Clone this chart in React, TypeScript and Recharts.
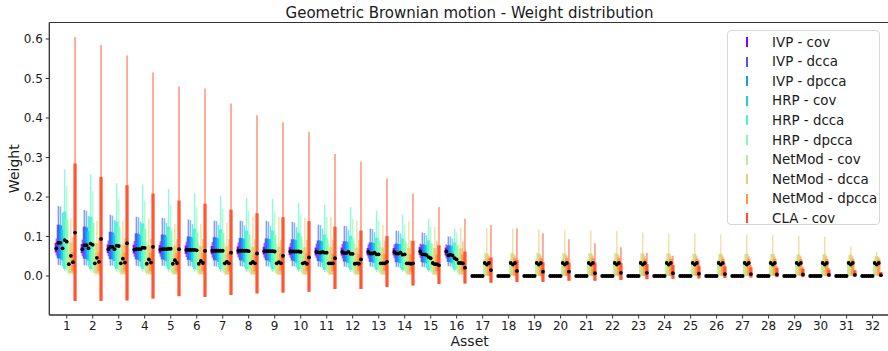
import React from 'react';
import { ComposedChart, Scatter, ErrorBar, XAxis, YAxis, ReferenceArea, Legend, Label } from 'recharts';

// Each row: [whiskerLow, boxLow, median, boxHigh, whiskerHigh] for assets 1..32
type Row = [number, number, number, number, number];

const ASSETS = [1, 2, 3, 4, 5, 6, 7, 8, 9, 10, 11, 12, 13, 14, 15, 16, 17, 18, 19, 20, 21, 22, 23, 24, 25, 26, 27, 28, 29, 30, 31, 32];
const Y_TICKS = [0, 0.1, 0.2, 0.3, 0.4, 0.5, 0.6];

const SERIES_NAMES = ['IVP - cov', 'IVP - dcca', 'IVP - dpcca', 'HRP - cov', 'HRP - dcca', 'HRP - dpcca', 'NetMod - cov', 'NetMod - dcca', 'NetMod - dpcca', 'CLA - cov'];
const SERIES_RGB = ['128,0,255', '77,79,252', '26,150,243', '26,206,227', '77,243,206', '128,255,180', '179,243,150', '230,206,116', '255,150,79', '255,79,40'];

const IVP_COV: Row[] = [
  [0.052, 0.060, 0.070, 0.084, 0.095], [0.050, 0.058, 0.068, 0.081, 0.092], [0.050, 0.058, 0.068, 0.080, 0.090], [0.049, 0.057, 0.067, 0.079, 0.089],
  [0.049, 0.057, 0.067, 0.078, 0.088], [0.048, 0.056, 0.066, 0.077, 0.087], [0.047, 0.055, 0.064, 0.076, 0.086], [0.047, 0.055, 0.064, 0.075, 0.085],
  [0.046, 0.054, 0.063, 0.074, 0.084], [0.046, 0.053, 0.062, 0.073, 0.083], [0.045, 0.052, 0.061, 0.072, 0.082], [0.045, 0.052, 0.061, 0.072, 0.081],
  [0.045, 0.052, 0.061, 0.071, 0.080], [0.045, 0.052, 0.061, 0.071, 0.080], [0.046, 0.053, 0.062, 0.073, 0.082], [0.045, 0.052, 0.062, 0.072, 0.080],
  [0, 0, 0, 0, 0], [0, 0, 0, 0, 0], [0, 0, 0, 0, 0], [0, 0, 0, 0, 0], [0, 0, 0, 0, 0], [0, 0, 0, 0, 0], [0, 0, 0, 0, 0], [0, 0, 0, 0, 0],
  [0, 0, 0, 0, 0], [0, 0, 0, 0, 0], [0, 0, 0, 0, 0], [0, 0, 0, 0, 0], [0, 0, 0, 0, 0], [0, 0, 0, 0, 0], [0, 0, 0, 0, 0], [0, 0, 0, 0, 0],
];

const IVP_DCCA: Row[] = [
  [0.028, 0.045, 0.084, 0.130, 0.177], [0.027, 0.044, 0.078, 0.125, 0.167], [0.026, 0.043, 0.074, 0.112, 0.155], [0.026, 0.042, 0.068, 0.108, 0.150],
  [0.026, 0.042, 0.068, 0.105, 0.147], [0.025, 0.041, 0.066, 0.100, 0.143], [0.025, 0.040, 0.064, 0.098, 0.140], [0.025, 0.040, 0.064, 0.096, 0.140],
  [0.025, 0.040, 0.063, 0.095, 0.140], [0.025, 0.039, 0.062, 0.093, 0.137], [0.024, 0.038, 0.060, 0.090, 0.130], [0.024, 0.037, 0.058, 0.088, 0.127],
  [0.024, 0.036, 0.057, 0.085, 0.120], [0.023, 0.035, 0.057, 0.082, 0.115], [0.023, 0.035, 0.055, 0.080, 0.110], [0.025, 0.036, 0.052, 0.078, 0.100],
  [0, 0, 0, 0, 0], [0, 0, 0, 0, 0], [0, 0, 0, 0, 0], [0, 0, 0, 0, 0], [0, 0, 0, 0, 0], [0, 0, 0, 0, 0], [0, 0, 0, 0, 0], [0, 0, 0, 0, 0],
  [0, 0, 0, 0, 0], [0, 0, 0, 0, 0], [0, 0, 0, 0, 0], [0, 0, 0, 0, 0], [0, 0, 0, 0, 0], [0, 0, 0, 0, 0], [0, 0, 0, 0, 0], [0, 0, 0, 0, 0],
];

const IVP_DPCCA: Row[] = [
  [0.027, 0.044, 0.084, 0.128, 0.176], [0.027, 0.043, 0.078, 0.123, 0.165], [0.026, 0.042, 0.074, 0.110, 0.153], [0.025, 0.041, 0.068, 0.106, 0.149],
  [0.025, 0.041, 0.068, 0.104, 0.146], [0.025, 0.040, 0.066, 0.099, 0.142], [0.024, 0.040, 0.064, 0.097, 0.139], [0.024, 0.039, 0.064, 0.095, 0.139],
  [0.024, 0.039, 0.063, 0.094, 0.138], [0.024, 0.038, 0.062, 0.092, 0.135], [0.023, 0.037, 0.059, 0.089, 0.129], [0.023, 0.036, 0.058, 0.087, 0.126],
  [0.023, 0.035, 0.057, 0.084, 0.119], [0.022, 0.035, 0.057, 0.081, 0.114], [0.022, 0.034, 0.055, 0.079, 0.109], [0.024, 0.035, 0.054, 0.077, 0.100],
  [0, 0, 0, 0, 0], [0, 0, 0, 0, 0], [0, 0, 0, 0, 0], [0, 0, 0, 0, 0], [0, 0, 0, 0, 0], [0, 0, 0, 0, 0], [0, 0, 0, 0, 0], [0, 0, 0, 0, 0],
  [0, 0, 0, 0, 0], [0, 0, 0, 0, 0], [0, 0, 0, 0, 0], [0, 0, 0, 0, 0], [0, 0, 0, 0, 0], [0, 0, 0, 0, 0], [0, 0, 0, 0, 0], [0, 0, 0, 0, 0],
];

const HRP_COV: Row[] = [
  [0.025, 0.040, 0.070, 0.118, 0.160], [0.024, 0.039, 0.070, 0.113, 0.152], [0.024, 0.038, 0.068, 0.105, 0.142], [0.023, 0.037, 0.068, 0.102, 0.138],
  [0.023, 0.037, 0.068, 0.100, 0.135], [0.023, 0.036, 0.066, 0.097, 0.132], [0.022, 0.036, 0.064, 0.095, 0.130], [0.022, 0.035, 0.064, 0.094, 0.128],
  [0.022, 0.035, 0.063, 0.093, 0.127], [0.022, 0.034, 0.062, 0.091, 0.124], [0.021, 0.034, 0.061, 0.088, 0.120], [0.021, 0.033, 0.061, 0.086, 0.117],
  [0.021, 0.033, 0.059, 0.083, 0.112], [0.020, 0.032, 0.059, 0.081, 0.108], [0.020, 0.032, 0.053, 0.078, 0.103], [0.021, 0.032, 0.052, 0.075, 0.095],
  [0, 0, 0, 0, 0], [0, 0, 0, 0, 0], [0, 0, 0, 0, 0], [0, 0, 0, 0, 0], [0, 0, 0, 0, 0], [0, 0, 0, 0, 0], [0, 0, 0, 0, 0], [0, 0, 0, 0, 0],
  [0, 0, 0, 0, 0], [0, 0, 0, 0, 0], [0, 0, 0, 0, 0], [0, 0, 0, 0, 0], [0, 0, 0, 0, 0], [0, 0, 0, 0, 0], [0, 0, 0, 0, 0], [0, 0, 0, 0, 0],
];

const HRP_DCCA: Row[] = [
  [0.012, 0.018, 0.091, 0.163, 0.270], [0.012, 0.018, 0.082, 0.150, 0.258], [0.011, 0.018, 0.077, 0.138, 0.235], [0.011, 0.018, 0.072, 0.133, 0.232],
  [0.011, 0.017, 0.069, 0.125, 0.220], [0.011, 0.017, 0.066, 0.120, 0.210], [0.010, 0.017, 0.064, 0.118, 0.203], [0.010, 0.017, 0.064, 0.115, 0.198],
  [0.010, 0.016, 0.063, 0.115, 0.195], [0.010, 0.016, 0.062, 0.110, 0.185], [0.010, 0.016, 0.059, 0.105, 0.180], [0.010, 0.016, 0.056, 0.102, 0.175],
  [0.010, 0.016, 0.055, 0.097, 0.165], [0.010, 0.015, 0.054, 0.095, 0.155], [0.010, 0.015, 0.048, 0.090, 0.145], [0.011, 0.016, 0.045, 0.085, 0.120],
  [0, 0, 0, 0, 0], [0, 0, 0, 0, 0], [0, 0, 0, 0, 0], [0, 0, 0, 0, 0], [0, 0, 0, 0, 0], [0, 0, 0, 0, 0], [0, 0, 0, 0, 0], [0, 0, 0, 0, 0],
  [0, 0, 0, 0, 0], [0, 0, 0, 0, 0], [0, 0, 0, 0, 0], [0, 0, 0, 0, 0], [0, 0, 0, 0, 0], [0, 0, 0, 0, 0], [0, 0, 0, 0, 0], [0, 0, 0, 0, 0],
];

const HRP_DPCCA: Row[] = [
  [0.015, 0.025, 0.087, 0.143, 0.228], [0.015, 0.024, 0.079, 0.135, 0.215], [0.014, 0.024, 0.076, 0.125, 0.195], [0.014, 0.023, 0.071, 0.120, 0.190],
  [0.014, 0.023, 0.069, 0.115, 0.180], [0.014, 0.023, 0.065, 0.110, 0.175], [0.013, 0.022, 0.064, 0.108, 0.170], [0.013, 0.022, 0.063, 0.105, 0.165],
  [0.013, 0.022, 0.062, 0.104, 0.163], [0.013, 0.021, 0.061, 0.100, 0.155], [0.013, 0.021, 0.059, 0.097, 0.150], [0.013, 0.021, 0.056, 0.094, 0.145],
  [0.012, 0.020, 0.055, 0.090, 0.140], [0.012, 0.020, 0.055, 0.088, 0.130], [0.012, 0.020, 0.045, 0.083, 0.125], [0.013, 0.021, 0.042, 0.078, 0.110],
  [0, 0, 0, 0, 0], [0, 0, 0, 0, 0], [0, 0, 0, 0, 0], [0, 0, 0, 0, 0], [0, 0, 0, 0, 0], [0, 0, 0, 0, 0], [0, 0, 0, 0, 0], [0, 0, 0, 0, 0],
  [0, 0, 0, 0, 0], [0, 0, 0, 0, 0], [0, 0, 0, 0, 0], [0, 0, 0, 0, 0], [0, 0, 0, 0, 0], [0, 0, 0, 0, 0], [0, 0, 0, 0, 0], [0, 0, 0, 0, 0],
];

const NETMOD_COV: Row[] = [
  [0.002, 0.008, 0.030, 0.058, 0.090], [0.002, 0.008, 0.032, 0.057, 0.088], [0.002, 0.008, 0.032, 0.056, 0.087], [0.002, 0.008, 0.031, 0.055, 0.086],
  [0.002, 0.008, 0.031, 0.055, 0.085], [0.002, 0.008, 0.031, 0.055, 0.085], [0.002, 0.008, 0.032, 0.054, 0.084], [0.002, 0.008, 0.032, 0.054, 0.084],
  [0.002, 0.008, 0.032, 0.054, 0.083], [0.002, 0.008, 0.032, 0.053, 0.083], [0.002, 0.008, 0.032, 0.053, 0.082], [0.002, 0.008, 0.031, 0.053, 0.082],
  [0.002, 0.008, 0.032, 0.053, 0.082], [0.002, 0.008, 0.032, 0.053, 0.081], [0.002, 0.008, 0.033, 0.053, 0.081], [0.002, 0.008, 0.033, 0.053, 0.080],
  [0.000, 0.002, 0.033, 0.042, 0.060], [0.000, 0.002, 0.033, 0.042, 0.060], [0.000, 0.002, 0.033, 0.042, 0.059], [0.000, 0.002, 0.033, 0.042, 0.059],
  [0.000, 0.002, 0.033, 0.042, 0.058], [0.000, 0.002, 0.033, 0.041, 0.058], [0.000, 0.002, 0.033, 0.041, 0.057], [0.000, 0.002, 0.033, 0.041, 0.057],
  [0.000, 0.002, 0.033, 0.041, 0.056], [0.000, 0.002, 0.033, 0.041, 0.056], [0.000, 0.002, 0.033, 0.040, 0.055], [0.000, 0.002, 0.033, 0.040, 0.055],
  [0.000, 0.002, 0.033, 0.040, 0.054], [0.000, 0.002, 0.033, 0.040, 0.054], [0.000, 0.002, 0.033, 0.040, 0.053], [0.000, 0.002, 0.033, 0.039, 0.050],
];

const NETMOD_DCCA: Row[] = [
  [0.005, 0.008, 0.051, 0.085, 0.146], [0.004, 0.007, 0.046, 0.083, 0.140], [0.003, 0.006, 0.044, 0.080, 0.140], [0.003, 0.006, 0.042, 0.078, 0.145],
  [0.003, 0.005, 0.040, 0.077, 0.132], [0.003, 0.005, 0.038, 0.076, 0.132], [0.003, 0.004, 0.036, 0.075, 0.135], [0.003, 0.004, 0.036, 0.074, 0.150],
  [0.003, 0.004, 0.035, 0.074, 0.150], [0.003, 0.004, 0.034, 0.073, 0.148], [0.003, 0.004, 0.032, 0.073, 0.150], [0.003, 0.004, 0.032, 0.072, 0.140],
  [0.003, 0.004, 0.032, 0.072, 0.130], [0.003, 0.004, 0.032, 0.071, 0.138], [0.003, 0.004, 0.030, 0.071, 0.125], [0.003, 0.004, 0.033, 0.070, 0.122],
  [0.000, 0.001, 0.029, 0.057, 0.121], [0.000, 0.001, 0.029, 0.057, 0.120], [0.000, 0.001, 0.029, 0.057, 0.118], [0.000, 0.001, 0.029, 0.057, 0.117],
  [0.000, 0.001, 0.029, 0.057, 0.116], [0.000, 0.001, 0.029, 0.057, 0.114], [0.000, 0.001, 0.029, 0.057, 0.110], [0.000, 0.001, 0.029, 0.057, 0.108],
  [0.000, 0.001, 0.029, 0.056, 0.107], [0.000, 0.001, 0.029, 0.056, 0.106], [0.000, 0.001, 0.029, 0.056, 0.105], [0.000, 0.001, 0.029, 0.056, 0.104],
  [0.000, 0.001, 0.029, 0.055, 0.101], [0.000, 0.001, 0.029, 0.055, 0.100], [0.000, 0.001, 0.029, 0.054, 0.075], [0.000, 0.001, 0.029, 0.050, 0.062],
];

const NETMOD_DPCCA: Row[] = [
  [0.004, 0.012, 0.035, 0.060, 0.098], [0.004, 0.012, 0.036, 0.060, 0.097], [0.004, 0.012, 0.034, 0.059, 0.096], [0.004, 0.012, 0.034, 0.059, 0.095],
  [0.004, 0.012, 0.033, 0.058, 0.094], [0.004, 0.012, 0.033, 0.058, 0.094], [0.004, 0.012, 0.032, 0.058, 0.093], [0.004, 0.012, 0.032, 0.057, 0.093],
  [0.004, 0.012, 0.032, 0.057, 0.092], [0.004, 0.012, 0.031, 0.057, 0.092], [0.004, 0.012, 0.032, 0.056, 0.091], [0.004, 0.012, 0.031, 0.056, 0.091],
  [0.004, 0.012, 0.032, 0.056, 0.090], [0.004, 0.012, 0.031, 0.055, 0.090], [0.004, 0.012, 0.030, 0.055, 0.089], [0.004, 0.012, 0.032, 0.055, 0.088],
  [0.000, 0.001, 0.033, 0.045, 0.052], [0.000, 0.001, 0.033, 0.045, 0.052], [0.000, 0.001, 0.033, 0.045, 0.052], [0.000, 0.001, 0.033, 0.045, 0.052],
  [0.000, 0.001, 0.033, 0.045, 0.052], [0.000, 0.001, 0.033, 0.045, 0.052], [0.000, 0.001, 0.033, 0.044, 0.051], [0.000, 0.001, 0.033, 0.044, 0.051],
  [0.000, 0.001, 0.033, 0.044, 0.051], [0.000, 0.001, 0.033, 0.044, 0.051], [0.000, 0.001, 0.033, 0.044, 0.050], [0.000, 0.001, 0.033, 0.044, 0.050],
  [0.000, 0.001, 0.033, 0.043, 0.050], [0.000, 0.001, 0.033, 0.043, 0.050], [0.000, 0.001, 0.033, 0.043, 0.049], [0.000, 0.001, 0.033, 0.042, 0.048],
];

const CLA_COV: Row[] = [
  [-0.063, -0.063, 0.110, 0.285, 0.605], [-0.063, -0.063, 0.094, 0.251, 0.585], [-0.062, -0.062, 0.083, 0.230, 0.558], [-0.057, -0.057, 0.074, 0.209, 0.515],
  [-0.051, -0.051, 0.068, 0.191, 0.480], [-0.053, -0.053, 0.064, 0.183, 0.475], [-0.048, -0.048, 0.059, 0.168, 0.437], [-0.044, -0.044, 0.057, 0.159, 0.407],
  [-0.042, -0.042, 0.051, 0.149, 0.389], [-0.040, -0.040, 0.047, 0.139, 0.365], [-0.033, -0.033, 0.045, 0.125, 0.309], [-0.033, -0.033, 0.042, 0.115, 0.289],
  [-0.028, -0.028, 0.036, 0.101, 0.247], [-0.024, -0.024, 0.032, 0.089, 0.209], [-0.020, -0.020, 0.027, 0.078, 0.175], [-0.019, -0.019, 0.021, 0.062, 0.145],
  [-0.017, -0.017, 0.015, 0.047, 0.129], [-0.015, -0.015, 0.013, 0.040, 0.121], [-0.015, -0.015, 0.011, 0.035, 0.108], [-0.012, -0.012, 0.011, 0.034, 0.093],
  [-0.012, -0.012, 0.007, 0.034, 0.083], [-0.010, -0.010, 0.008, 0.033, 0.073], [-0.008, -0.008, 0.008, 0.030, 0.059], [-0.007, -0.007, 0.007, 0.028, 0.051],
  [-0.006, -0.006, 0.006, 0.026, 0.040], [-0.005, -0.005, 0.005, 0.024, 0.032], [-0.004, -0.004, 0.005, 0.022, 0.028], [-0.003, -0.003, 0.004, 0.020, 0.025],
  [-0.003, -0.003, 0.004, 0.018, 0.022], [-0.002, -0.002, 0.003, 0.016, 0.020], [-0.002, -0.002, 0.003, 0.014, 0.015], [-0.001, -0.001, 0.002, 0.010, 0.010],
];

const SERIES_ROWS: Row[][] = [IVP_COV, IVP_DCCA, IVP_DPCCA, HRP_COV, HRP_DCCA, HRP_DPCCA, NETMOD_COV, NETMOD_DCCA, NETMOD_DPCCA, CLA_COV];

const X_DOMAIN: [number, number] = [0.33, 32.67];
const Y_DOMAIN: [number, number] = [-0.0987, 0.6418];
const FONT = '"DejaVu Sans", sans-serif';
const TEXT = '#1a1a1a';

const seriesData = SERIES_ROWS.map((rows, si) => {
  const off = -0.4 + si * 0.08;
  return ASSETS.map((a, j) => {
    const [wl, bl, m, bh, wh] = rows[j];
    return { x: a + off, y: m, whisk: [m - wl, wh - m], box: [m - bl, bh - m] };
  });
});

const dotData = seriesData.flatMap((d) => d.map((p) => ({ x: p.x, y: p.y })));

const Empty = () => <g />;
const Dot = (props: any) => <circle cx={props.cx} cy={props.cy} r={1.9} fill="#000" />;

const renderLegend = () => (
  <div
    style={{
      width: 153,
      height: 195,
      boxSizing: 'border-box',
      border: '1px solid #d6d6d6',
      borderRadius: 4,
      background: 'rgba(255,255,255,0.85)',
      fontFamily: FONT,
      fontSize: 13.4,
      color: TEXT,
      position: 'relative',
    }}
  >
    {SERIES_NAMES.map((n, i) => (
      <div key={n} style={{ position: 'absolute', left: 0, top: 1 + i * 19.6, height: 20, display: 'flex', alignItems: 'center', whiteSpace: 'nowrap' }}>
        <span style={{ display: 'inline-block', width: 2.6, height: 10, marginLeft: 17.5, marginRight: 24, background: `rgb(${SERIES_RGB[i]})` }} />
        <span>{n}</span>
      </div>
    ))}
  </div>
);

export default function App() {
  return (
    <div style={{ position: 'absolute', left: 0, top: 0, width: 888, height: 351, overflow: 'hidden', background: '#fff', fontFamily: FONT }}>
      <div style={{ position: 'absolute', left: 49, top: 4, width: 841, textAlign: 'center', fontSize: 15, color: TEXT, lineHeight: '18px', zIndex: 2 }}>
        Geometric Brownian motion - Weight distribution
      </div>
      <ComposedChart width={892} height={351} margin={{ top: 22.5, right: 2, bottom: 0, left: 0 }}>
        <XAxis
          type="number"
          dataKey="x"
          domain={X_DOMAIN}
          ticks={ASSETS}
          allowDataOverflow
          height={36}
          tickSize={3.5}
          tickMargin={2.5}
          interval={0}
          stroke="#333"
          tick={{ fontSize: 12, fill: TEXT, fontFamily: FONT }}
        >
          <Label
            content={(p: any) => {
              const vb = p.viewBox || {};
              return (
                <text x={vb.x + vb.width / 2} y={vb.y + 31} textAnchor="middle" fontSize={14} fill={TEXT} fontFamily={FONT}>
                  Asset
                </text>
              );
            }}
          />
        </XAxis>
        <YAxis
          type="number"
          dataKey="y"
          domain={Y_DOMAIN}
          ticks={Y_TICKS}
          allowDataOverflow
          width={49.3}
          tickSize={3.5}
          tickMargin={3}
          stroke="#333"
          tickFormatter={(v: number) => v.toFixed(1)}
          tick={{ fontSize: 12, fill: TEXT, fontFamily: FONT }}
        >
          <Label
            content={(p: any) => {
              const vb = p.viewBox || {};
              const cx = 14;
              const cy = vb.y + vb.height / 2;
              return (
                <text x={cx} y={cy} transform={`rotate(-90 ${cx} ${cy})`} textAnchor="middle" dominantBaseline="central" fontSize={14} fill={TEXT} fontFamily={FONT}>
                  Weight
                </text>
              );
            }}
          />
        </YAxis>
        <ReferenceArea x1={X_DOMAIN[0]} x2={X_DOMAIN[1]} y1={Y_DOMAIN[0]} y2={Y_DOMAIN[1]} fill="none" stroke="#333" strokeWidth={1} ifOverflow="visible" />
        {seriesData.map((d, si) => (
          <Scatter key={SERIES_NAMES[si]} name={SERIES_NAMES[si]} data={d} shape={Empty} isAnimationActive={false} legendType="line">
            <ErrorBar dataKey="whisk" direction="y" width={0} stroke={`rgba(${SERIES_RGB[si]},0.62)`} strokeWidth={1.5} />
            <ErrorBar dataKey="box" direction="y" width={0} stroke={`rgba(${SERIES_RGB[si]},0.92)`} strokeWidth={3.3} />
          </Scatter>
        ))}
        <Scatter name="median" data={dotData} shape={Dot} isAnimationActive={false} legendType="none" />
        <Legend layout="vertical" align="center" verticalAlign="middle" content={renderLegend} wrapperStyle={{ left: 727, top: 30, width: 153, height: 195 }} />
      </ComposedChart>
    </div>
  );
}
